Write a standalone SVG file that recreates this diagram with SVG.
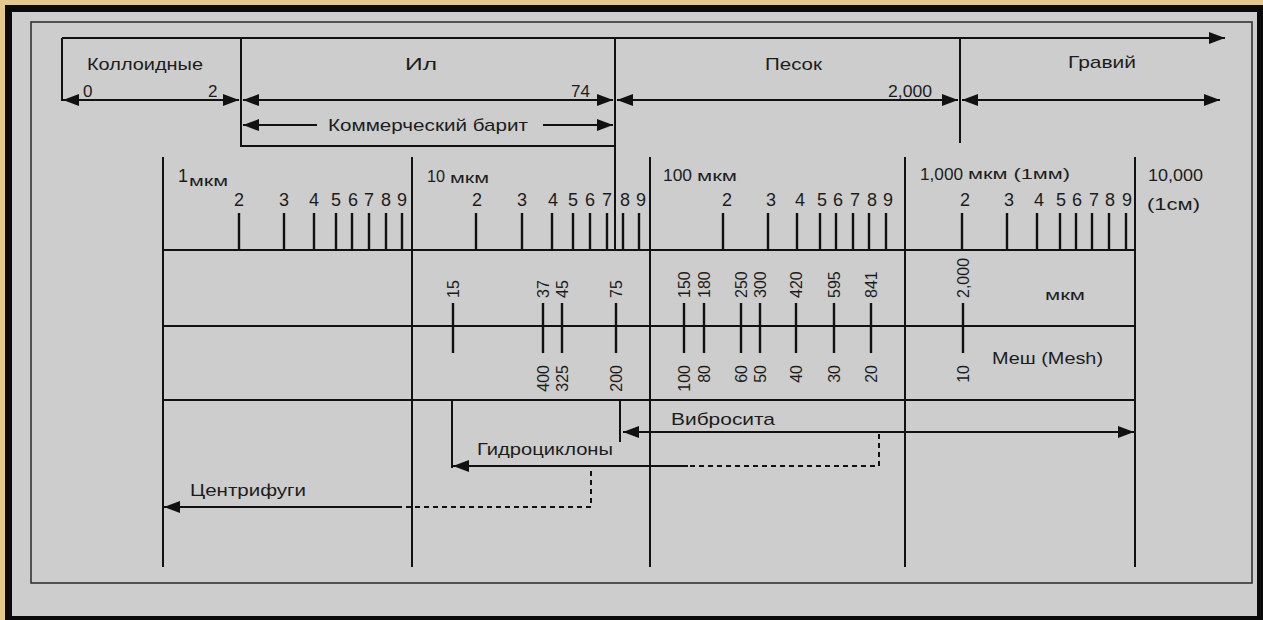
<svg xmlns="http://www.w3.org/2000/svg" width="1263" height="620" viewBox="0 0 1263 620">
<style>
.ln{stroke:#111;stroke-width:2;fill:none}
.tk{stroke:#111;stroke-width:2.4;fill:none}
.ds{stroke:#111;stroke-width:2;fill:none;stroke-dasharray:5 4}
text{font-family:"Liberation Sans",Arial,sans-serif;fill:#1c1c1c}
.lb{font-size:17px}
.nm{font-size:17px}
.dg{font-size:18px;text-anchor:middle}
.ru{font-size:16px}
.rd{font-size:16px;text-anchor:end}
.sm{font-size:15px}
</style>
<defs>
<marker id="ah" viewBox="0 0 16 12" refX="16" refY="6" markerWidth="16" markerHeight="12" markerUnits="userSpaceOnUse" orient="auto-start-reverse">
<path d="M0,0 L16,6 L0,12 z" fill="#111"/>
</marker>
</defs>
<g id="frame">
<rect x="0" y="0" width="1263" height="620" fill="#e4c890"/>
<rect x="5" y="5" width="1258" height="615" fill="#0a0a0a"/>
<rect x="12" y="12" width="1245" height="604" fill="#cdcdcd"/>
<rect x="31" y="22" width="1221" height="561" fill="none" stroke="#333" stroke-width="1.6"/>
</g>
<g id="connectors">
<path class="ln" d="M62,38 H1225" marker-end="url(#ah)"/>
<path class="ln" d="M62,38 V101 M241,38 V147 M615,38 V250 M960,38 V143"/>
<path class="ln" d="M63,100 H239" marker-start="url(#ah)" marker-end="url(#ah)"/>
<path class="ln" d="M243,100 H613" marker-start="url(#ah)" marker-end="url(#ah)"/>
<path class="ln" d="M617,100 H958" marker-start="url(#ah)" marker-end="url(#ah)"/>
<path class="ln" d="M962,100 H1220" marker-start="url(#ah)" marker-end="url(#ah)"/>
<path class="ln" d="M317,125 H243" marker-end="url(#ah)"/>
<path class="ln" d="M543,125 H613" marker-end="url(#ah)"/>
<path class="ln" d="M241,146 H615"/>
<path class="ln" d="M163,157 V567 M412,157 V567 M650,157 V567 M905,157 V567 M1135,157 V567"/>
<path class="ln" d="M163,250 H1135 M163,326 H1135 M163,400 H1135"/>
<path class="tk" d="M239,213V250 M284,213V250 M314,213V250 M336,213V250 M352,213V250 M369,213V250 M386,213V250 M402,213V250 M476,213V250 M522,213V250 M552,213V250 M573,213V250 M590,213V250 M607,213V250 M623,213V250 M639,213V250 M723,213V250 M768,213V250 M797,213V250 M820,213V250 M836,213V250 M853,213V250 M869,213V250 M886,213V250 M962,213V250 M1007,213V250 M1037,213V250 M1060,213V250 M1076,213V250 M1092,213V250 M1109,213V250 M1126,213V250"/>
<path class="tk" d="M453,303V353 M543,303V353 M562,303V353 M616,303V353 M684,303V353 M704,303V353 M741,303V353 M760,303V353 M796,303V353 M834,303V353 M871,303V353 M963,303V353"/>
<path class="ln" d="M620,400 V442 M452,400 V468"/>
<path class="ln" d="M623,432 H1134" marker-start="url(#ah)" marker-end="url(#ah)"/>
<path class="ds" d="M879,434 V466 H688"/>
<path class="ln" d="M688,466 H453" marker-end="url(#ah)"/>
<path class="ds" d="M591,471 V507 H402"/>
<path class="ln" d="M402,507 H164" marker-end="url(#ah)"/>
</g>
<g id="range-labels">
<text class="lb" x="87" y="70" textLength="116" lengthAdjust="spacingAndGlyphs">Коллоидные</text>
<text class="lb" x="405" y="70" textLength="32" lengthAdjust="spacingAndGlyphs">Ил</text>
<text class="lb" x="765" y="70" textLength="57" lengthAdjust="spacingAndGlyphs">Песок</text>
<text class="lb" x="1068" y="68" textLength="68" lengthAdjust="spacingAndGlyphs">Гравий</text>
<text class="nm" x="83" y="97">0</text>
<text class="nm" x="208" y="97">2</text>
<text class="nm" x="571" y="97">74</text>
<text class="nm" x="888" y="97" textLength="44" lengthAdjust="spacingAndGlyphs">2,000</text>
<text class="lb" x="328" y="131" textLength="200" lengthAdjust="spacingAndGlyphs">Коммерческий барит</text>
</g>
<g id="scale-labels">
<text x="178" y="182" font-size="18">1</text>
<text class="sm" x="189" y="186" textLength="39" lengthAdjust="spacingAndGlyphs">мкм</text>
<text x="427" y="182" font-size="17" textLength="18" lengthAdjust="spacingAndGlyphs">10</text>
<text class="sm" x="450" y="183" textLength="39" lengthAdjust="spacingAndGlyphs">мкм</text>
<text x="663" y="181" font-size="17" textLength="29" lengthAdjust="spacingAndGlyphs">100</text>
<text class="sm" x="697" y="181" textLength="40" lengthAdjust="spacingAndGlyphs">мкм</text>
<text x="920" y="180" font-size="17" textLength="43" lengthAdjust="spacingAndGlyphs">1,000</text>
<text class="sm" x="968" y="179" textLength="102" lengthAdjust="spacingAndGlyphs">мкм (1мм)</text>
<text x="1148" y="181" font-size="17" textLength="55" lengthAdjust="spacingAndGlyphs">10,000</text>
<text x="1147" y="210" font-size="16" textLength="53" lengthAdjust="spacingAndGlyphs">(1см)</text>
</g>
<g id="tick-digits">
<text class="dg" x="239" y="206">2</text><text class="dg" x="284" y="206">3</text><text class="dg" x="314" y="206">4</text><text class="dg" x="336" y="206">5</text><text class="dg" x="353" y="206">6</text><text class="dg" x="369" y="206">7</text><text class="dg" x="386" y="206">8</text><text class="dg" x="402" y="206">9</text>
<text class="dg" x="477" y="206">2</text><text class="dg" x="522" y="206">3</text><text class="dg" x="553" y="206">4</text><text class="dg" x="573" y="206">5</text><text class="dg" x="590" y="206">6</text><text class="dg" x="607" y="206">7</text><text class="dg" x="625" y="206">8</text><text class="dg" x="641" y="206">9</text>
<text class="dg" x="727" y="206">2</text><text class="dg" x="771" y="206">3</text><text class="dg" x="800" y="206">4</text><text class="dg" x="822" y="206">5</text><text class="dg" x="838" y="206">6</text><text class="dg" x="855" y="206">7</text><text class="dg" x="872" y="206">8</text><text class="dg" x="888" y="206">9</text>
<text class="dg" x="965" y="206">2</text><text class="dg" x="1009" y="206">3</text><text class="dg" x="1039" y="206">4</text><text class="dg" x="1061" y="206">5</text><text class="dg" x="1077" y="206">6</text><text class="dg" x="1094" y="206">7</text><text class="dg" x="1110" y="206">8</text><text class="dg" x="1127" y="206">9</text>
</g>
<g id="micron-values">
<text class="ru" transform="translate(459,298) rotate(-90)">15</text>
<text class="ru" transform="translate(549,298) rotate(-90)">37</text>
<text class="ru" transform="translate(568,298) rotate(-90)">45</text>
<text class="ru" transform="translate(622,298) rotate(-90)">75</text>
<text class="ru" transform="translate(690,298) rotate(-90)">150</text>
<text class="ru" transform="translate(710,298) rotate(-90)">180</text>
<text class="ru" transform="translate(747,298) rotate(-90)">250</text>
<text class="ru" transform="translate(766,298) rotate(-90)">300</text>
<text class="ru" transform="translate(802,298) rotate(-90)">420</text>
<text class="ru" transform="translate(840,298) rotate(-90)">595</text>
<text class="ru" transform="translate(877,298) rotate(-90)">841</text>
<text class="ru" transform="translate(969,298) rotate(-90)">2,000</text>
<text class="sm" x="1045" y="300" textLength="40" lengthAdjust="spacingAndGlyphs">мкм</text>
</g>
<g id="mesh-values">
<text class="rd" transform="translate(549,365) rotate(-90)">400</text>
<text class="rd" transform="translate(568,365) rotate(-90)">325</text>
<text class="rd" transform="translate(622,365) rotate(-90)">200</text>
<text class="rd" transform="translate(690,365) rotate(-90)">100</text>
<text class="rd" transform="translate(710,365) rotate(-90)">80</text>
<text class="rd" transform="translate(747,365) rotate(-90)">60</text>
<text class="rd" transform="translate(766,365) rotate(-90)">50</text>
<text class="rd" transform="translate(802,365) rotate(-90)">40</text>
<text class="rd" transform="translate(840,365) rotate(-90)">30</text>
<text class="rd" transform="translate(877,365) rotate(-90)">20</text>
<text class="rd" transform="translate(969,365) rotate(-90)">10</text>
<text class="lb" x="992" y="364" textLength="111" lengthAdjust="spacingAndGlyphs">Меш (Mesh)</text>
</g>
<g id="equipment">
<text class="lb" x="671" y="425" textLength="104" lengthAdjust="spacingAndGlyphs">Вибросита</text>
<text class="lb" x="477" y="455" textLength="136" lengthAdjust="spacingAndGlyphs">Гидроциклоны</text>
<text class="lb" x="190" y="496" textLength="116" lengthAdjust="spacingAndGlyphs">Центрифуги</text>
</g>
</svg>
